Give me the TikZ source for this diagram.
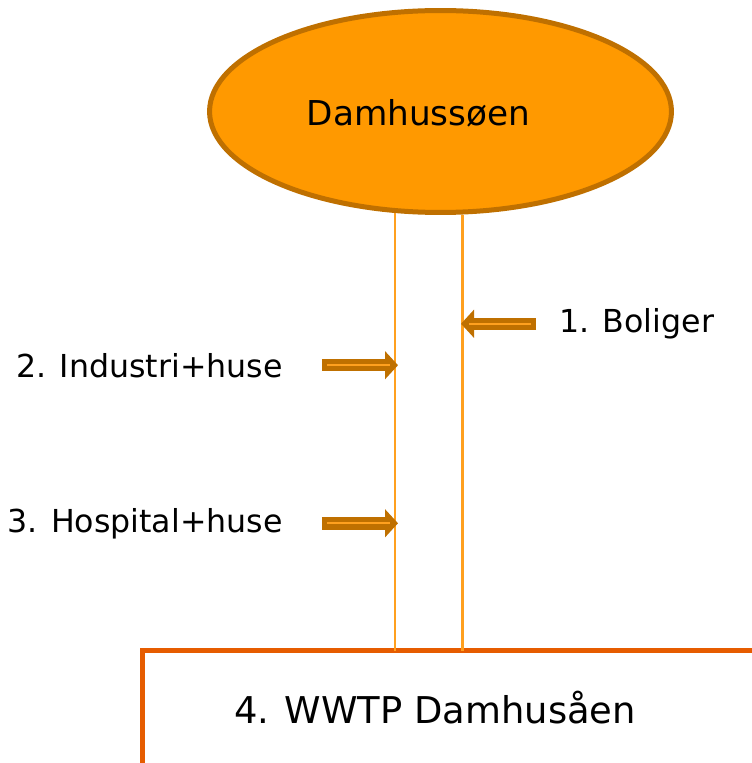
\documentclass[tikz,border=0pt]{standalone}
\usepackage{fontspec}
\setmainfont{DejaVu Sans}
\usetikzlibrary{arrows.meta, shapes.geometric}

\definecolor{lakefill}{HTML}{FF9900}
\definecolor{lakeedge}{HTML}{BF7000}
\definecolor{pipe}{HTML}{FFA01F}
\definecolor{plant}{HTML}{E65C00}

\tikzset{
  feeder/.style = {draw=pipe, line width=0.045cm},
  inflow/.style = {draw=lakeedge, line width=0.25cm,
    -{Triangle[length=0.26cm, width=0.55cm]},
    postaction = {draw=pipe, line width=0.04cm, -,
      shorten <=0.1cm, shorten >=0.16cm}},
  tag/.style = {inner sep=0pt, font=\fontsize{18}{22}\selectfont},
}

\begin{document}
\begin{tikzpicture}[x=0.02cm, y=-0.02cm]
\useasboundingbox (0,0) rectangle (751,763);

% lake and plant
\node[ellipse, draw=lakeedge, line width=0.1cm, fill=lakefill,
  minimum width=9.24cm, minimum height=4.04cm] (lake) at (440.5,111.5) {};
\node[anchor=base, inner sep=0pt, font=\fontsize{19.5}{23}\selectfont]
  (lakename) at (418.5,126) {Damhussøen};

\coordinate (plant) at (142.5,650.5);
\draw[plant, line width=0.09cm] (820,650.5) -- (plant) -- (142.5,830);
\node[anchor=base, inner sep=0pt, font=\fontsize{21}{25}\selectfont]
  (wwtp) at (435,723) {4. WWTP Damhusåen};

% the two sewer lines
\draw[feeder] (lake.246) -- (lake.246 |- plant);
\draw[feeder] (lake.282) -- (lake.282 |- plant);

% inflows
\node[tag, anchor=base west] (bolig) at (559,332.5) {1. Boliger};
\node[tag, anchor=base east] (industri) at (283,377) {2. Industri+huse};
\node[tag, anchor=base east] (hospital) at (283,532) {3. Hospital+huse};

\draw[inflow] ([xshift=-0.46cm]bolig.west) -- (bolig.west -| 461,0);
\draw[inflow] ([xshift=0.78cm]industri.east) -- (industri.east -| 398,0);
\draw[inflow] ([xshift=0.78cm]hospital.east) -- (hospital.east -| 398,0);
\end{tikzpicture}
\end{document}
